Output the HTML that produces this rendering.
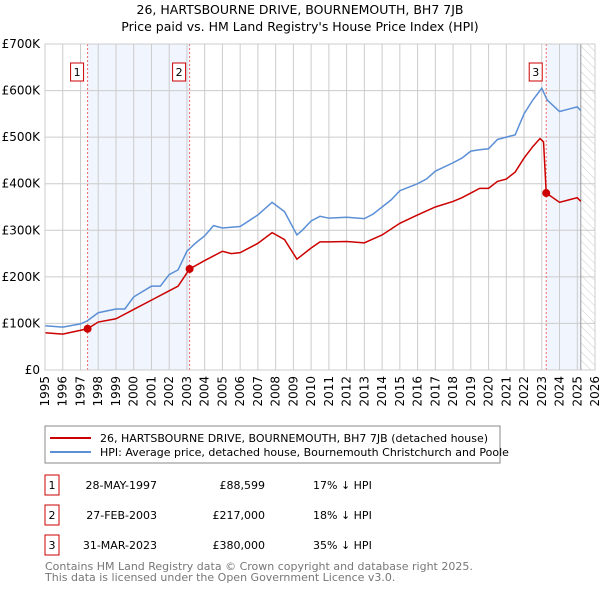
<!DOCTYPE html>
<html><head><meta charset="utf-8"><style>
body{margin:0;width:600px;height:590px;background:#fff;font-family:"Liberation Sans","DejaVu Sans",sans-serif;overflow:hidden}
svg text{font-family:"DejaVu Sans","Liberation Sans",sans-serif}
</style></head><body>
<svg id="c" width="600" height="590">
<defs><pattern id="hatch" width="6" height="6" patternUnits="userSpaceOnUse" patternTransform="rotate(-45)"><line x1="0" y1="0" x2="0" y2="6" stroke="#ccc" stroke-width="1"/></pattern></defs>
<text x="300" y="14" text-anchor="middle" font-size="12.5">26, HARTSBOURNE DRIVE, BOURNEMOUTH, BH7 7JB</text>
<text x="300" y="31" text-anchor="middle" font-size="12.5">Price paid vs. HM Land Registry's House Price Index (HPI)</text>
<g id="plot"></g>
<rect x="45" y="426" width="455" height="37" fill="#fff" stroke="#888"/>
<line x1="50" y1="438" x2="91" y2="438" stroke="#cc0000" stroke-width="2"/>
<text x="100" y="442" font-size="11">26, HARTSBOURNE DRIVE, BOURNEMOUTH, BH7 7JB (detached house)</text>
<line x1="50" y1="452" x2="91" y2="452" stroke="#5b8fd6" stroke-width="2"/>
<text x="100" y="456" font-size="11">HPI: Average price, detached house, Bournemouth Christchurch and Poole</text>
<g font-size="11" id="tbl"></g>
<text x="45" y="570" font-size="11" fill="#777">Contains HM Land Registry data © Crown copyright and database right 2025.</text>
<text x="45" y="581" font-size="11" fill="#777">This data is licensed under the Open Government Licence v3.0.</text>
</svg>
<script>
const hpiYears=[1995,1996,1997,1997.4,1998,1999,1999.5,2000,2001,2001.5,2002,2002.5,2003,2003.5,2004,2004.5,2005,2006,2007,2007.8,2008.5,2009.2,2009.5,2010,2010.5,2011,2012,2013,2013.5,2014,2014.5,2015,2016,2016.5,2017,2018,2018.5,2019,2019.5,2020,2020.5,2021,2021.5,2022,2022.5,2023.0,2023.3,2024,2024.5,2025,2025.2];
const hpiValues=[95,92,99,106,123,131,131,157,180,180,205,215,255,273,288,310,305,308,333,360,340,290,300,320,330,326,328,325,335,350,365,385,400,410,427,445,455,470,473,475,495,500,505,550,580,605,580,555,560,565,557];
const ppYears=[1995,1996,1997.4,1998,1999,2000,2001,2002,2002.5,2003.15,2004,2005,2005.5,2006,2007,2007.8,2008.5,2009.2,2010,2010.5,2011,2012,2013,2014,2015,2016,2017,2018,2018.5,2019,2019.5,2020,2020.5,2021,2021.5,2022,2022.5,2022.9,2023.1,2023.25,2024,2024.5,2025,2025.2];
const ppValues=[80,77,88.6,103,110,130,150,170,180,217,235,255,250,252,272,295,280,238,262,275,275,276,273,290,315,333,350,362,370,380,390,390,405,410,425,455,480,497,490,380,360,365,370,362];
const saleYears=[1997.4,2003.15,2023.25];
const saleValues=[88.599,217,380];
const saleLabels=["1","2","3"];
const saleDates=["28-MAY-1997","27-FEB-2003","31-MAR-2023"];
const salePrices=["£88,599","£217,000","£380,000"];
const saleDiffs=["17% ↓ HPI","18% ↓ HPI","35% ↓ HPI"];
const yTicks=[0,100,200,300,400,500,600,700];
const yTickLabels=["£0","£100K","£200K","£300K","£400K","£500K","£600K","£700K"];
const xTicks=[1995,1996,1997,1998,1999,2000,2001,2002,2003,2004,2005,2006,2007,2008,2009,2010,2011,2012,2013,2014,2015,2016,2017,2018,2019,2020,2021,2022,2023,2024,2025,2026];
const X0=45,X1=595,Y0=370,Y1=44;
const xs=y=>X0+(y-1995)/(2026-1995)*(X1-X0);
const ys=v=>Y0-v/700*(Y0-Y1);
const NS="http://www.w3.org/2000/svg";
const g=document.getElementById('plot');
function mk(t,a,p){const e=document.createElementNS(NS,t);for(const k in a)e.setAttribute(k,a[k]);(p||g).appendChild(e);return e;}
// shading
let e=mk('rect',{x:xs(saleYears[0]),y:Y1,width:xs(saleYears[1])-xs(saleYears[0]),height:Y0-Y1,fill:'#eef3fc',opacity:0.8});

e=mk('rect',{x:xs(saleYears[2]),y:Y1,width:xs(2025.2)-xs(saleYears[2]),height:Y0-Y1,fill:'#eef3fc',opacity:0.8});

e=mk('rect',{x:xs(2025.2),y:Y1,width:X1-xs(2025.2),height:Y0-Y1,fill:'url(#hatch)'});

// grid
yTicks.forEach((v,i)=>{let l=mk('line',{x1:X0,x2:X1,y1:ys(v),y2:ys(v),stroke:'#ccc'});

let t=mk('text',{x:X0-5,y:ys(v)+4,'text-anchor':'end','font-size':12});t.textContent=yTickLabels[i];
});
xTicks.forEach(y=>{let l=mk('line',{x1:xs(y),x2:xs(y),y1:Y1,y2:Y0,stroke:'#ccc'});

let t=mk('text',{x:0,y:0,'text-anchor':'end','font-size':12,transform:`translate(${xs(y)+4},${Y0+6}) rotate(-90)`});t.textContent=y;
});
e=mk('line',{x1:xs(2025.2),x2:xs(2025.2),y1:Y1,y2:Y0,stroke:'#999'});

// vlines
saleYears.forEach((y,i)=>{let l=mk('line',{x1:xs(y),x2:xs(y),y1:Y1,y2:Y0,stroke:'#e66','stroke-dasharray':'2,2'});

let r=mk('rect',{x:xs(y)-17,y:63,width:13,height:18,fill:'#fff',stroke:'#c00'});

let t=mk('text',{x:xs(y)-10.5,y:76,'text-anchor':'middle','font-size':11});t.textContent=saleLabels[i];
});
// lines
e=mk('polyline',{points:hpiYears.map((y,i)=>xs(y)+','+ys(hpiValues[i])).join(' '),fill:'none',stroke:'#5b8fd6','stroke-width':1.5});

e=mk('polyline',{points:ppYears.map((y,i)=>xs(y)+','+ys(ppValues[i])).join(' '),fill:'none',stroke:'#cc0000','stroke-width':1.5});

saleYears.forEach((y,i)=>{let c=mk('circle',{cx:xs(y),cy:ys(saleValues[i]),r:4,fill:'#cc0000'});
});
mk('rect',{x:X0,y:Y1,width:X1-X0,height:Y0-Y1,fill:'none',stroke:'#ccc'});
// table
const tb=document.getElementById('tbl');
[483,513,543].forEach((ry,i)=>{
let r=mk('rect',{x:45,y:ry-8,width:14,height:20,fill:'#fff',stroke:'#c00'},tb);

let t=mk('text',{x:52,y:ry+6,'text-anchor':'middle'},tb);t.textContent=saleLabels[i];
t=mk('text',{x:157,y:ry+6,'text-anchor':'end'},tb);t.textContent=saleDates[i];

t=mk('text',{x:265,y:ry+6,'text-anchor':'end'},tb);t.textContent=salePrices[i];

t=mk('text',{x:313,y:ry+6},tb);t.textContent=saleDiffs[i];
});
</script>
</body></html>
